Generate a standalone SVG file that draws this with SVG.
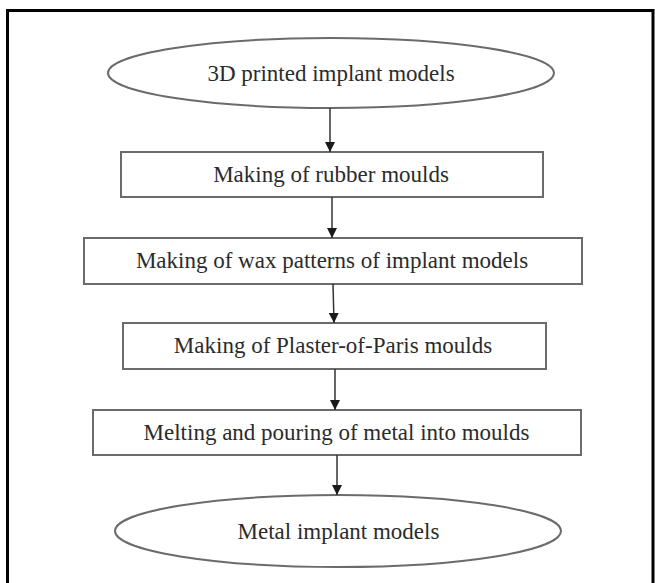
<svg xmlns="http://www.w3.org/2000/svg" width="655" height="583" viewBox="0 0 655 583">
<style>
.frame{fill:none;stroke:#000;stroke-width:3}
.shape{fill:#fff;stroke:#6b6b6b;stroke-width:2}
.lbl{font-family:"Liberation Serif","Times New Roman",serif;font-size:23px;fill:#2b2b2b;text-anchor:middle}
.conn line{stroke:#333;stroke-width:1.5}
</style>
<defs>
<marker id="ah" viewBox="0 0 10 10" refX="10" refY="5" markerWidth="10" markerHeight="10" markerUnits="userSpaceOnUse" orient="auto">
<path d="M0,0 L10,5 L0,10 Z" fill="#1a1a1a"/>
</marker>
</defs>
<rect width="655" height="583" fill="#fff"/>
<rect class="frame" x="7.5" y="10.5" width="645.5" height="600"/>
<g id="n1"><ellipse class="shape" cx="331" cy="73" rx="223" ry="35"/><text class="lbl" x="331" y="81">3D printed implant models</text></g>
<g id="n2"><rect class="shape" x="121" y="152" width="422" height="45"/><text class="lbl" x="331" y="182">Making of rubber moulds</text></g>
<g id="n3"><rect class="shape" x="84" y="238" width="498" height="46"/><text class="lbl" x="332" y="268">Making of wax patterns of implant models</text></g>
<g id="n4"><rect class="shape" x="123" y="323" width="423" height="46"/><text class="lbl" x="333" y="353">Making of Plaster-of-Paris moulds</text></g>
<g id="n5"><rect class="shape" x="93" y="410" width="488" height="45"/><text class="lbl" x="336.5" y="440">Melting and pouring of metal into moulds</text></g>
<g id="n6"><ellipse class="shape" cx="338" cy="531" rx="223" ry="36"/><text class="lbl" x="338.5" y="539">Metal implant models</text></g>
<g id="connectors" class="conn">
<line x1="330" y1="108" x2="330" y2="152" marker-end="url(#ah)"/>
<line x1="332" y1="197" x2="332" y2="238" marker-end="url(#ah)"/>
<line x1="333" y1="284" x2="334" y2="323" marker-end="url(#ah)"/>
<line x1="335" y1="369" x2="335" y2="410" marker-end="url(#ah)"/>
<line x1="337" y1="455" x2="337" y2="495" marker-end="url(#ah)"/>
</g>
</svg>
